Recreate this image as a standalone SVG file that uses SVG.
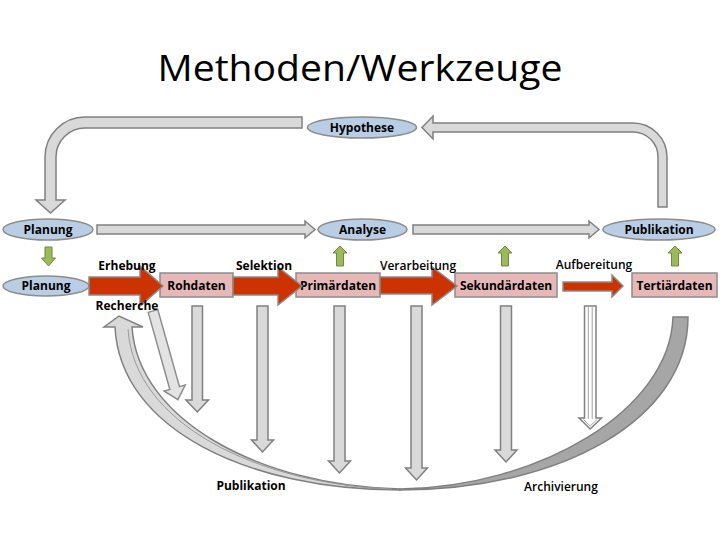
<svg xmlns="http://www.w3.org/2000/svg" width="720" height="540" viewBox="0 0 720 540">
<style>
.ell{fill:#b9cde5;stroke:#8c8c8c;stroke-width:1.5}
.box{fill:#e6b9b8;stroke:#8c8c8c;stroke-width:1.5}
.gray{fill:#d9d9d9;stroke:#808080;stroke-width:1.5;stroke-linejoin:miter}
.red{fill:#cc3300;stroke:#8c8c8c;stroke-width:1.5}
.green{fill:#9bbb59;stroke:#71893f;stroke-width:1}
.lbl{font-family:"Open Sans","Liberation Sans",sans-serif;font-size:12px;font-weight:bold;fill:#000;text-anchor:middle}
.lbln{font-family:"Open Sans","Liberation Sans",sans-serif;font-size:12px;font-weight:600;fill:#000;text-anchor:middle}
</style>
<rect width="720" height="540" fill="#fff"/>
<text x="360" y="81" font-family="'Open Sans','Liberation Sans',sans-serif" font-size="36" text-anchor="middle" textLength="405" lengthAdjust="spacingAndGlyphs" fill="#000">Methoden/Werkzeuge</text>

<g id="connectors">
  <path class="gray" d="M302,117 H85 A40,40 0 0 0 45,157 V200 H36 L50.5,213 L65,200 H56 V157 A29,29 0 0 1 85,128 H302 Z"/>
  <path class="gray" d="M433,123 H633 A34,34 0 0 1 667,157 V207 H658 V157 A25,25 0 0 0 633,132 H433 V139 L422,127.5 L433,116 Z"/>
  <path class="gray" d="M97,225 H305 V221 L315,229.5 L305,238 V234 H97 Z"/>
  <path class="gray" d="M413,225 H589 V221 L599,229.5 L589,238 V234 H413 Z"/>
  <path class="green" d="M45,247 H52 V258 H55.5 L48.5,266 L41.5,258 H45 Z"/>
  <path class="green" d="M333,253 L340,246 L347,253 H343.5 V266 H336.5 V253 Z"/>
  <path class="green" d="M498,253 L505,246 L512,253 H508.5 V266 H501.5 V253 Z"/>
  <path class="green" d="M668,253 L675,246 L682,253 H678.5 V266 H671.5 V253 Z"/>
  <path d="M688,317 C688,420 560,490 400,490 C400,489.5 400,489 400,489 C540,487 670,410 673,317 Z" fill="#a6a6a6" stroke="#808080" stroke-width="1.5"/>
  <path d="M400,490 C250,490 120,430 115,327 H104 L119,316 L143,327 H132 C138,420 260,486 400,489 Z" fill="#d9d9d9" stroke="#808080" stroke-width="1.5" stroke-linejoin="miter"/>
  <path d="M128,329 C134,424 258,484 392,489" fill="none" stroke="#9a9a9a" stroke-width="1"/>
  <path class="gray" d="M192,306 H202.5 V400 H208.5 L197.25,412 L186,400 H192 Z"/>
  <path class="gray" d="M257,306 H268 V440 H273.5 L262.5,452 L251.5,440 H257 Z"/>
  <path class="gray" d="M334,306 H345 V461 H350.5 L339.5,473 L328.5,461 H334 Z"/>
  <path class="gray" d="M411,306 H422 V468 H427.5 L416.5,480 L405.5,468 H411 Z"/>
  <path class="gray" d="M500.5,306 H511.5 V450 H517 L506,462 L495,450 H500.5 Z"/>
  <g id="striped-arrow">
    <path d="M584.5,306 H596 V418 H601.5 L590.25,429 L579,418 H584.5 Z" fill="#fff" stroke="#808080" stroke-width="1.5"/>
    <path d="M588.3,307 V419 M592.2,307 V419 M583.5,419.5 L590.25,426 L597,419.5" fill="none" stroke="#a0a0a0" stroke-width="1"/>
  </g>
  <path d="M-5,0 H5 V80 H11 L0,92 L-11,80 H-5 Z" transform="translate(153,311) rotate(-15.7)" fill="#e3e3e3" stroke="#8c8c8c" stroke-width="1.5"/>
</g>

<g id="node-hypothese"><ellipse class="ell" cx="362" cy="127.5" rx="54.5" ry="10.5"/><text class="lbl" x="362" y="131.5">Hypothese</text></g>
<g id="node-planung1"><ellipse class="ell" cx="48" cy="229.5" rx="45" ry="10.5"/><text class="lbl" x="48" y="233.5">Planung</text></g>
<g id="node-analyse"><ellipse class="ell" cx="362.5" cy="229.5" rx="44.5" ry="10.5"/><text class="lbl" x="362.5" y="233.5">Analyse</text></g>
<g id="node-publikation"><ellipse class="ell" cx="659" cy="229.5" rx="56" ry="10.5"/><text class="lbl" x="659" y="233.5">Publikation</text></g>
<g id="node-planung2"><ellipse class="ell" cx="46" cy="286" rx="43" ry="10"/><text class="lbl" x="46" y="290">Planung</text></g>
<g id="node-rohdaten"><rect class="box" x="160" y="273" width="73" height="24"/><text class="lbl" x="196.5" y="289.5">Rohdaten</text></g>
<g id="node-primaerdaten"><rect class="box" x="296" y="273" width="84" height="24"/><text class="lbl" x="338" y="289.5">Primärdaten</text></g>
<g id="node-sekundaerdaten"><rect class="box" x="455" y="273" width="102" height="24"/><text class="lbl" x="506" y="289.5">Sekundärdaten</text></g>
<g id="node-tertiaerdaten"><rect class="box" x="632" y="273" width="85" height="24"/><text class="lbl" x="674.5" y="289.5">Tertiärdaten</text></g>

<g id="process-arrows">
  <path class="red" d="M89,277 H140 V266 L163,286 L140,306 V295 H89 Z"/>
  <path class="red" d="M233,277 H278 V267 L302,286 L278,305 V295 H233 Z"/>
  <path class="red" d="M380,277 H432 V267 L457,286 L432,305 V294 H380 Z"/>
  <path class="red" d="M563,282 H612 V275 L623,286 L612,297 V291 H563 Z"/>
</g>

<g id="labels">
  <text class="lbl" x="127" y="270">Erhebung</text>
  <text class="lbl" x="264" y="270">Selektion</text>
  <text class="lbl" x="127" y="310">Recherche</text>
  <text class="lbln" x="418" y="270">Verarbeitung</text>
  <text class="lbln" x="594" y="269">Aufbereitung</text>
  <text class="lbl" x="251" y="490">Publikation</text>
  <text class="lbln" x="561" y="491">Archivierung</text>
</g>
</svg>
